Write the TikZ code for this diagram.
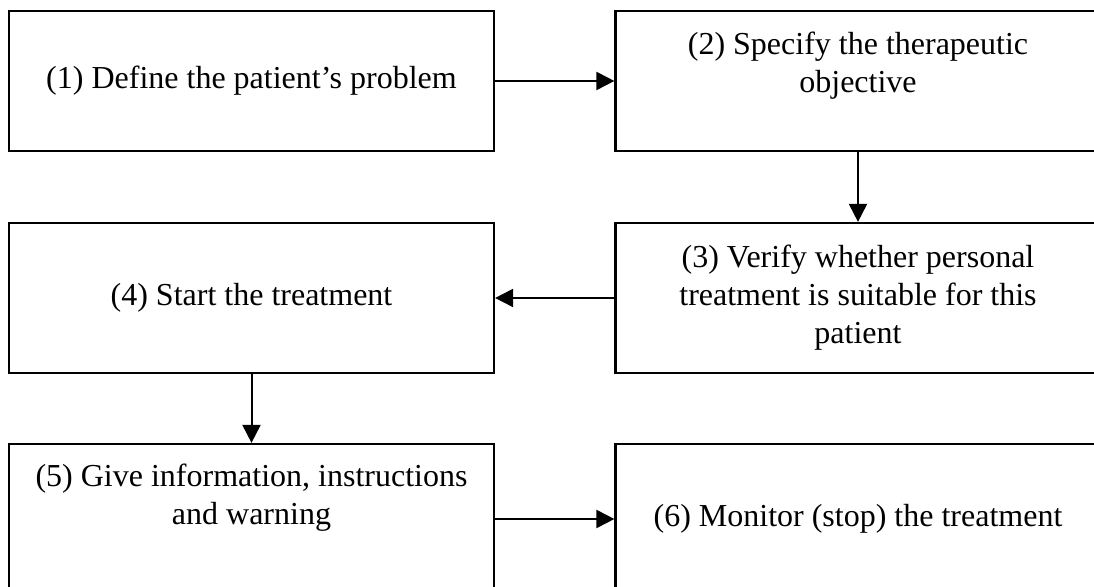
\documentclass[tikz,border=0pt]{standalone}
\usepackage{fontspec}
\setmainfont{Liberation Serif}
\usetikzlibrary{arrows.meta}

\begin{document}
\begin{tikzpicture}[x=0.5pt,y=-0.5pt,
		stepbox/.style={draw,line width=1.1pt,minimum width=242.5pt,
			align=center,font=\fontsize{16}{19}\selectfont},
		flow/.style={line width=1pt,-{Triangle[length=9pt,width=9pt]}}]
		\useasboundingbox (0,0) rectangle (1094,587);
		\node[stepbox,minimum height=70pt] (define) at (251.5,81) {(1) Define the patient’s problem};
		\node[stepbox,minimum height=70pt] (specify) at (858,81) {(2) Specify the therapeutic\\objective\\[-6pt]\strut};
		\node[stepbox,minimum height=75pt] (verify) at (858,298) {(3) Verify whether personal\\treatment is suitable for this\\patient};
		\node[stepbox,minimum height=75pt] (start) at (251.5,298) {(4) Start the treatment};
		\node[stepbox,minimum height=75pt] (inform) at (251.5,519) {(5) Give information, instructions\\and warning\\\strut};
		\node[stepbox,minimum height=75pt] (monitor) at (858,519) {(6) Monitor (stop) the treatment};
		\draw[flow] (define) -- (specify);
		\draw[flow] (specify) -- (verify);
		\draw[flow] (verify) -- (start);
		\draw[flow] (start) -- (inform);
		\draw[flow] (inform) -- (monitor);
	\end{tikzpicture}
\end{document}
